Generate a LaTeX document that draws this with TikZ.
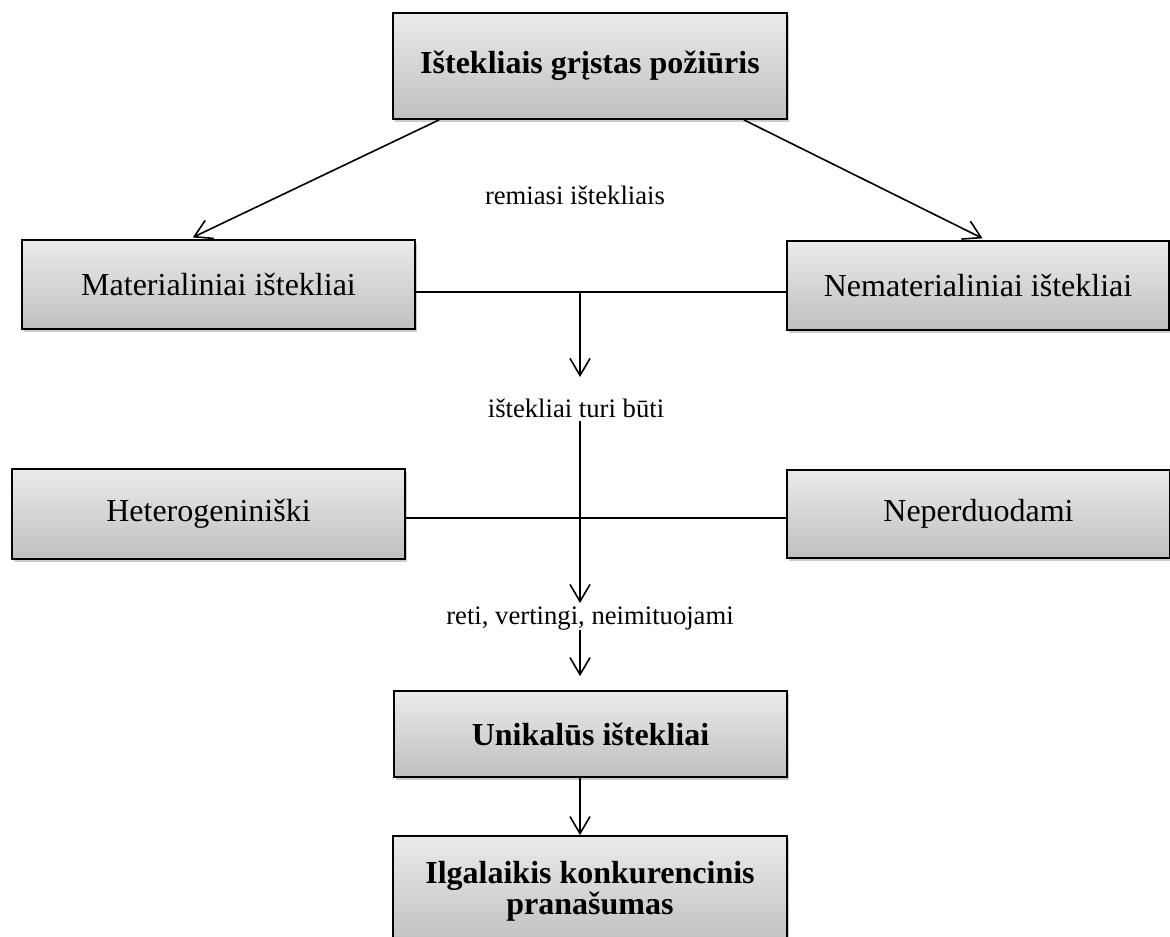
\documentclass[tikz,border=0pt]{standalone}
\usepackage{fontspec}
\setmainfont{Liberation Serif}
\usetikzlibrary{arrows.meta,shadows,calc}
\tikzset{
  box/.style={draw=black, line width=1.3pt, top color=gray!16, bottom color=gray!50,
    inner sep=2pt, align=center, font=\fontsize{24}{21.75}\selectfont,
    drop shadow={shadow xshift=1.5pt, shadow yshift=-2.2pt, opacity=0.4, fill=gray}},
  boxb/.style={box, font=\fontsize{24}{21.75}\selectfont\bfseries},
  lbl/.style={font=\fontsize{20}{24}\selectfont, inner sep=0pt},
  conn/.style={line width=1.2pt},
  arr/.style={conn, -{Straight Barb[length=12.75pt,width=15pt,line width=1.2pt]}},
}
\begin{document}
\begin{tikzpicture}[x=0.75pt,y=-0.75pt]
\useasboundingbox (0,0) rectangle (1170,936);
\node[boxb, minimum width=295.5pt, minimum height=79.5pt] (top) at (590,66) {Ištekliais grįstas požiūris};
\node[box, minimum width=294.75pt, minimum height=66.75pt] (mat) at (218.5,284.5) {Materialiniai ištekliai};
\node[box, minimum width=286.5pt, minimum height=66.75pt] (nemat) at (978,285.5) {Nematerialiniai ištekliai};
\node[box, minimum width=294.75pt, minimum height=67.5pt] (het) at (208.5,514) {Heterogeniniški};
\node[box, minimum width=287.25pt, minimum height=66pt] (nep) at (978.5,514) {Neperduodami};
\node[boxb, minimum width=294.75pt, minimum height=64.5pt] (uni) at (590.5,734) {Unikalūs ištekliai};
\node[boxb, minimum width=295.5pt, minimum height=82.5pt] (ilg) at (590,891) {Ilgalaikis konkurencinis\\pranašumas};

\node[lbl] (l1) at (575,195) {remiasi ištekliais};
\node[lbl] (l2) at (576,408) {ištekliai turi būti};
\node[lbl] (l3) at (590,619) {reti, vertingi, neimituojami};

\draw[arr, shorten >=3pt] ([xshift=35.25pt]top.south west) -- ([xshift=126pt]mat.north west);
\draw[arr, shorten >=3pt] ([xshift=-33pt]top.south east) -- ([xshift=150pt]nemat.north west);

\coordinate (j1) at (580,292);
\draw[conn] (mat.east |- j1) -- (nemat.west |- j1);
\coordinate (a2) at (580,377);
\draw[arr] (j1) -- (a2);

\coordinate (b1) at (580,421);
\coordinate (b2) at (580,603);
\draw[arr] (b1) -- (b2);
\coordinate (h2) at (580,518);
\draw[conn] (het.east |- h2) -- (nep.west |- h2);

\coordinate (c1) at (580,630);
\draw[arr, shorten >=10.5pt] (c1) -- (uni.north -| c1);
\draw[arr] (uni.south -| c1) -- (ilg.north -| c1);
\end{tikzpicture}
\end{document}
